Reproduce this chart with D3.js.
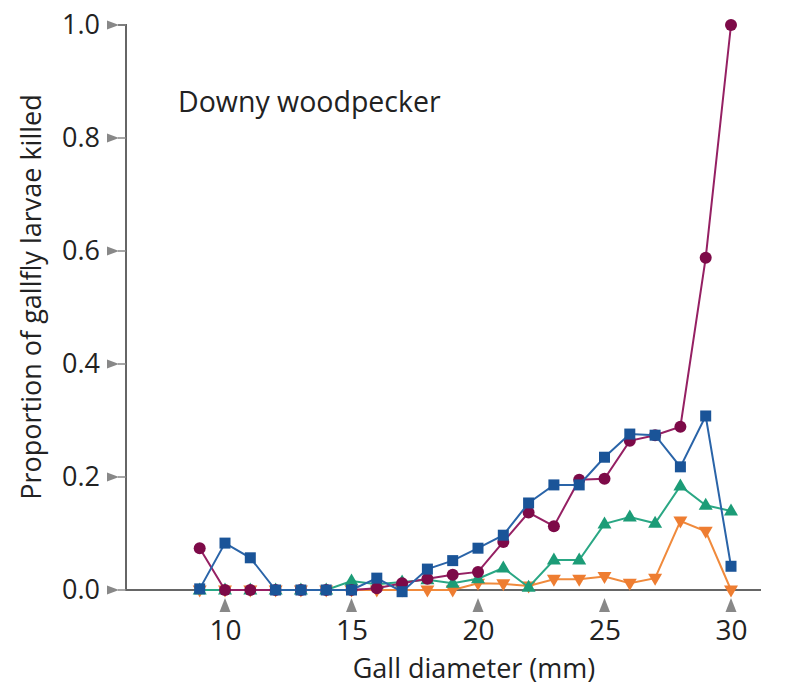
<!DOCTYPE html>
<html><head><meta charset="utf-8">
<script src="https://cdn.jsdelivr.net/npm/d3@7"></script>
<style>body{margin:0;background:#fff}svg{display:block}text{font-family:"Open Sans","Noto Sans",sans-serif;fill:#222}</style>
</head><body>
<svg id="c" width="788" height="694"></svg>
<script>
const diameters = [9,10,11,12,13,14,15,16,17,18,19,20,21,22,23,24,25,26,27,28,29,30];
const seriesPurple = [0.074,0,0,0,0,0,0,0.003,0.012,0.02,0.027,0.032,0.085,0.137,0.113,0.195,0.197,0.264,0.274,0.289,0.588,1.0];
const seriesBlue   = [0.002,0.083,0.057,0,0,0,0,0.021,-0.003,0.037,0.052,0.074,0.097,0.154,0.186,0.186,0.235,0.276,0.274,0.218,0.308,0.042];
const seriesGreen  = [0,0,0,0,0,0,0.016,0.01,0.014,0.018,0.012,0.02,0.039,0.005,0.053,0.053,0.117,0.129,0.118,0.184,0.150,0.140];
const seriesOrange = [0,0,0,0,0,0,0,0,0,0,0,0.012,0.011,0.007,0.019,0.019,0.024,0.012,0.021,0.122,0.104,0];
const xTicks = [10,15,20,25,30];
const yTicks = [0,0.2,0.4,0.6,0.8,1.0];

const svg = d3.select("#c");
const x = d3.scaleLinear().domain([9,30]).range([199.7,731]);
const y = d3.scaleLinear().domain([0,1]).range([590,25]);
const axisColor = "#666", tickColor = "#888";

svg.append("path").attr("d",`M118,${y(1)}H126V${y(0)}H761`).attr("fill","none").attr("stroke",axisColor).attr("stroke-width",2);

const ya = svg.append("g").attr("transform","translate(126,0)")
  .call(d3.axisLeft(y).tickValues(yTicks).tickFormat(d3.format(".1f")).tickSize(0).tickPadding(26));
ya.select(".domain").remove();
ya.selectAll("text").style("font-size","27px").attr("font-family",null).attr("fill","#222");
yTicks.forEach(v=>{
  svg.append("path").attr("d",`M107,${y(v)-4.5}L119,${y(v)}L107,${y(v)+4.5}Z`).attr("fill",tickColor);
  svg.append("line").attr("x1",118).attr("x2",126).attr("y1",y(v)).attr("y2",y(v)).attr("stroke",tickColor).attr("stroke-width",1.5);
});

const xa = svg.append("g").attr("transform",`translate(0,${y(0)})`)
  .call(d3.axisBottom(x).tickValues(xTicks).tickFormat(d3.format("d")).tickSize(0).tickPadding(30));
xa.select(".domain").remove();
xa.selectAll("text").style("font-size","28px").attr("font-family",null).attr("fill","#222");
xTicks.forEach(v=>{
  svg.append("path").attr("d",`M${x(v)-5.5},${y(0)+22}L${x(v)},${y(0)+8}L${x(v)+5.5},${y(0)+22}Z`).attr("fill",tickColor);
});

svg.append("text").attr("x",x(20)-4).attr("y",678).attr("text-anchor","middle").style("font-size","27px").text("Gall diameter (mm)");
svg.append("text").attr("transform","translate(41,297) rotate(-90)").attr("text-anchor","middle").style("font-size","27px").text("Proportion of gallfly larvae killed");
svg.append("text").attr("x",178).attr("y",112).style("font-size","28.5px").text("Downy woodpecker");

const line = vals => d3.line().x((d,i)=>x(diameters[i])).y(d=>y(d))(vals);
const series = [
  {vals:seriesOrange, line:"#f08a3c", fill:"#ee7d31", shape:"down"},
  {vals:seriesGreen,  line:"#2aa784", fill:"#1c9c77", shape:"up"},
  {vals:seriesPurple, line:"#952063", fill:"#7d0a48", shape:"circle"},
  {vals:seriesBlue,   line:"#2a64a8", fill:"#1a5498", shape:"square"}
];
series.forEach(s=>{
  const g = svg.append("g");
  g.append("path").attr("d",line(s.vals)).attr("fill","none").attr("stroke",s.line).attr("stroke-width",2);
  s.vals.forEach((v,i)=>{
    const cx=x(diameters[i]), cy=y(v);
    if(s.shape==="circle") g.append("circle").attr("cx",cx).attr("cy",cy).attr("r",6).attr("fill",s.fill);
    else if(s.shape==="square") g.append("rect").attr("x",cx-5.5).attr("y",cy-5.5).attr("width",11).attr("height",11).attr("fill",s.fill);
    else if(s.shape==="up") g.append("path").attr("d",`M${cx},${cy-7.5}L${cx+7},${cy+4.5}L${cx-7},${cy+4.5}Z`).attr("fill",s.fill);
    else g.append("path").attr("d",`M${cx},${cy+7.5}L${cx+7},${cy-4.5}L${cx-7},${cy-4.5}Z`).attr("fill",s.fill);
  });
});
</script>
</body></html>
